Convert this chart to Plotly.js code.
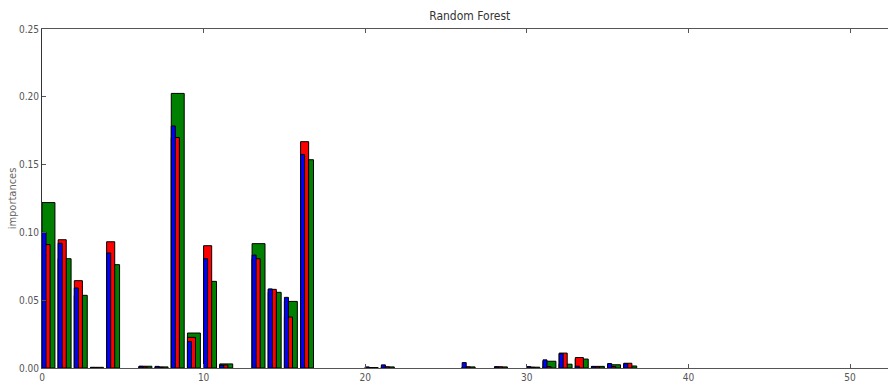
<!DOCTYPE html>
<html>
<head>
<meta charset="utf-8">
<script src="https://cdn.plot.ly/plotly-3.0.1.min.js"></script>
<style>html,body{margin:0;padding:0;background:#fff;}#chart{width:888px;height:383px;}</style>
</head>
<body>
<div id="chart"></div>
<script>
var features = [0,1,2,3,4,5,6,7,8,9,10,11,12,13,14,15,16,17,18,19,20,21,22,23,24,25,26,27,28,29,30,31,32,33,34,35,36];
var blueVals  = [0.100,0.092,0.059,0.0004,0.0848,0,0.0012,0.0012,0.1785,0.0196,0.0806,0.002,0,0.0833,0.0583,0.0521,0.1575,0,0,0,0.0008,0.0023,0,0,0,0,0.004,0,0.0008,0,0.001,0.006,0.0105,0.0013,0.0011,0.0033,0.0032];
var redVals   = [0.091,0.0946,0.0644,0.0003,0.0931,0,0.0008,0.0005,0.170,0.0226,0.0902,0.0022,0,0.0806,0.058,0.0376,0.1669,0,0,0,0.0003,0.0008,0,0,0,0,0.0008,0,0.0008,0,0.0005,0.001,0.011,0.0077,0.0008,0.001,0.0035];
var greenVals = [0.122,0.0806,0.0536,0.0005,0.0762,0,0.0013,0.0008,0.2025,0.0258,0.0639,0.003,0,0.0917,0.0558,0.0491,0.1536,0,0,0,0.0003,0.0008,0,0,0,0,0.0008,0,0.0008,0,0.0006,0.005,0.0028,0.0066,0.0012,0.0024,0.0015];
var xTicks = [0,10,20,30,40,50];
var yTicks = [0,0.05,0.10,0.15,0.20,0.25];
var yTickText = ['0.00','0.05','0.10','0.15','0.20','0.25'];

function barTrace(vals, color, w){
  return {type:'bar', x:features, y:vals.map(function(v){return v===0?null:v;}), offset:0, width:w,
    marker:{color:color, line:{color:'#000', width:1}}, hoverinfo:'skip'};
}
var data = [
  barTrace(greenVals,'#008000',0.8),
  barTrace(redVals,'#ff0000',0.5),
  barTrace(blueVals,'#0000ff',0.25)
];
var fnt = "'Liberation Sans Narrow','DejaVu Sans Condensed','Liberation Sans',sans-serif";
var layout = {
  width:888, height:383, showlegend:false, barmode:'overlay',
  paper_bgcolor:'#fff', plot_bgcolor:'#fff',
  margin:{l:42, r:0, t:29, b:15, pad:0},
  title:{text:'Random Forest', font:{family:fnt, size:12, color:'#333'}, x:0.529, xref:'container', y:0.958, yref:'container', yanchor:'middle'},
  xaxis:{range:[0,52.35], tickvals:xTicks, ticktext:xTicks.map(String), ticks:'inside', ticklen:4, tickcolor:'#555',
    showline:true, linecolor:'#555', linewidth:1, mirror:'ticks', showgrid:false, zeroline:false,
    tickfont:{family:fnt, size:10, color:'#555'}},
  yaxis:{range:[0,0.25], tickvals:yTicks, ticktext:yTickText, ticks:'inside', ticklen:4, tickcolor:'#555',
    showline:true, linecolor:'#333', linewidth:1, showgrid:false, zeroline:false,
    tickfont:{family:fnt, size:10, color:'#555'},
    title:{text:'importances', font:{family:fnt, size:11, color:'#666'}, standoff:0}}
};
Plotly.newPlot('chart', data, layout, {staticPlot:true, displayModeBar:false});
</script>
</body>
</html>
